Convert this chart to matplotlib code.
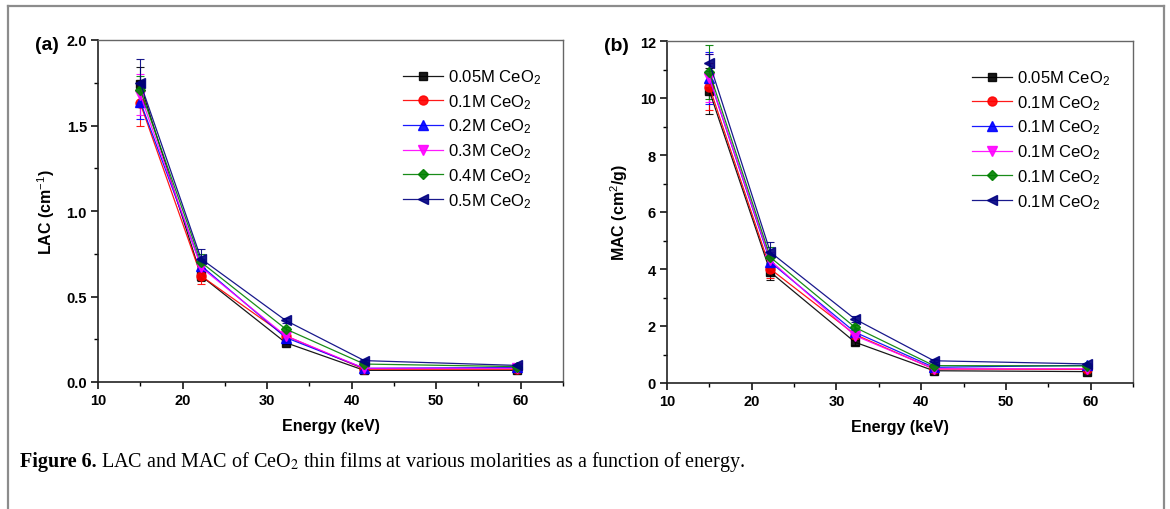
import matplotlib
matplotlib.use("Agg")
import matplotlib.pyplot as plt
from matplotlib.lines import Line2D
from matplotlib.ticker import MultipleLocator

plt.rcParams["font.family"] = ["Liberation Sans", "DejaVu Sans"]
plt.rcParams["mathtext.fontset"] = "custom"
plt.rcParams["mathtext.rm"] = "Liberation Sans"
plt.rcParams["mathtext.it"] = "Liberation Sans:italic"
plt.rcParams["mathtext.bf"] = "Liberation Sans:bold"

# photon energies (keV)
energy = [15.0, 22.2, 32.2, 41.5, 59.6]

# LAC (cm^-1) for each molarity, with error bars
lac_005 = [1.74, 0.62, 0.23, 0.068, 0.068]
lac_01 = [1.63, 0.62, 0.27, 0.075, 0.075]
lac_02 = [1.64, 0.68, 0.26, 0.080, 0.085]
lac_03 = [1.68, 0.67, 0.27, 0.080, 0.080]
lac_04 = [1.71, 0.70, 0.31, 0.105, 0.090]
lac_05 = [1.75, 0.72, 0.36, 0.125, 0.097]

lac_err_005 = [0.10, 0.03, 0.010, 0.005, 0.005]
lac_err_01 = [0.13, 0.045, 0.010, 0.005, 0.005]
lac_err_02 = [0.10, 0.04, 0.010, 0.005, 0.005]
lac_err_03 = [0.12, 0.04, 0.010, 0.005, 0.005]
lac_err_04 = [0.08, 0.05, 0.012, 0.006, 0.005]
lac_err_05 = [0.14, 0.06, 0.015, 0.008, 0.005]

# MAC (cm^2/g)
mac_005 = [10.25, 3.89, 1.43, 0.43, 0.40]
mac_01 = [10.40, 4.00, 1.70, 0.49, 0.48]
mac_02 = [10.70, 4.24, 1.78, 0.55, 0.62]
mac_03 = [10.70, 4.30, 1.66, 0.50, 0.50]
mac_04 = [10.90, 4.41, 1.95, 0.61, 0.60]
mac_05 = [11.24, 4.59, 2.24, 0.78, 0.67]

mac_err_005 = [0.82, 0.29, 0.08, 0.03, 0.03]
mac_err_01 = [0.82, 0.30, 0.08, 0.03, 0.03]
mac_err_02 = [0.90, 0.30, 0.08, 0.03, 0.03]
mac_err_03 = [0.85, 0.30, 0.08, 0.03, 0.03]
mac_err_04 = [0.95, 0.35, 0.09, 0.04, 0.03]
mac_err_05 = [0.30, 0.37, 0.10, 0.05, 0.04]

labels_a = ["0.05M CeO$_2$", "0.1M CeO$_2$", "0.2M CeO$_2$",
            "0.3M CeO$_2$", "0.4M CeO$_2$", "0.5M CeO$_2$"]
labels_b = ["0.05M CeO$_2$", "0.1M CeO$_2$", "0.1M CeO$_2$",
            "0.1M CeO$_2$", "0.1M CeO$_2$", "0.1M CeO$_2$"]

colors = ["#000000", "#ff0000", "#0000ff", "#ff00ff", "#008000", "#000080"]
markers = ["s", "o", "^", "v", "D", "<"]
msizes = [6, 6.5, 7, 7, 5.5, 7]

W, H = 1170, 510
fig = plt.figure(figsize=(W / 100, H / 100), dpi=100)


def make_axes(left_px, top_px, right_px, bottom_px):
    return fig.add_axes([left_px / W, 1 - bottom_px / H,
                         (right_px - left_px) / W, (bottom_px - top_px) / H])


def draw_panel(ax, ys, errs, labels, ylabel, ymax, ymaj, ymin_step, tag):
    handles = []
    for y, e, lab, c, m, ms in zip(ys, errs, labels, colors, markers, msizes):
        ax.errorbar(energy, y, yerr=e, color=c, marker=m, markersize=ms,
                    lw=0.9, elinewidth=0.8, capsize=3, capthick=0.8,
                    alpha=0.9)
        handles.append(Line2D([], [], color=c, marker=m, markersize=ms,
                              lw=0.9, alpha=0.9, label=lab))
    ax.set_xlim(10, 65)
    ax.set_ylim(0, ymax)
    ax.xaxis.set_major_locator(MultipleLocator(10))
    ax.xaxis.set_minor_locator(MultipleLocator(5))
    ax.yaxis.set_major_locator(MultipleLocator(ymaj))
    ax.yaxis.set_minor_locator(MultipleLocator(ymin_step))
    ax.set_xticks([10, 20, 30, 40, 50, 60])
    ax.tick_params(which="major", direction="out", length=5, width=1.1,
                   labelsize=10.5, pad=3)
    ax.tick_params(which="minor", direction="out", length=3, width=1.0)
    for lab in ax.get_xticklabels() + ax.get_yticklabels():
        lab.set_fontweight("bold")
    for side in ["left", "bottom"]:
        ax.spines[side].set_linewidth(1.2)
        ax.spines[side].set_color("#222222")
    for side in ["top", "right"]:
        ax.spines[side].set_linewidth(1.0)
        ax.spines[side].set_color("#666666")
    ax.set_xlabel("Energy (keV)", fontsize=11.5, fontweight="bold", labelpad=8)
    ax.set_ylabel(ylabel, fontsize=11.5, fontweight="bold", labelpad=7)
    ax.text(-0.135, 0.988, tag, transform=ax.transAxes, fontsize=14,
            fontweight="bold", ha="left", va="center")
    ax.legend(handles=handles, loc="upper left", bbox_to_anchor=(0.655, 0.92),
              frameon=False, fontsize=12, handlelength=2.4,
              handletextpad=0.3, labelspacing=0.36, borderpad=0,
              borderaxespad=0)


ax_a = make_axes(98, 41, 563, 383)
ax_b = make_axes(667, 42, 1133, 384)

draw_panel(ax_a,
           [lac_005, lac_01, lac_02, lac_03, lac_04, lac_05],
           [lac_err_005, lac_err_01, lac_err_02, lac_err_03, lac_err_04, lac_err_05],
           labels_a, "LAC (cm$^{-1}$)", 2.0, 0.5, 0.25, "(a)")
draw_panel(ax_b,
           [mac_005, mac_01, mac_02, mac_03, mac_04, mac_05],
           [mac_err_005, mac_err_01, mac_err_02, mac_err_03, mac_err_04, mac_err_05],
           labels_b, "MAC (cm$^2$/g)", 12, 2, 1, "(b)")

# outer frame of the figure box
frame_c = "#8c8c8c"
x0, x1, ytop = 8 / W, 1164 / W, 1 - 7 / H
fig.add_artist(Line2D([x0, x0], [0, ytop], color=frame_c, lw=1.6))
fig.add_artist(Line2D([x1, x1], [0, ytop], color=frame_c, lw=1.6))
fig.add_artist(Line2D([x0, x1], [ytop, ytop], color=frame_c, lw=1.6))

# caption: bold lead-in followed by regular text on the same baseline
cap_y = 1 - 467 / H
cap1 = fig.text(20 / W, cap_y, "Figure 6.", fontsize=14.5,
                family="Liberation Serif", fontweight="bold", va="baseline")
fig.canvas.draw()
bb = cap1.get_window_extent()
fig.text(bb.x1 / W + 4 / W, cap_y,
         "LAC and MAC of CeO$_2$ thin films at various molarities as a function of energy.",
         fontsize=14.5, family="Liberation Serif", math_fontfamily="stix",
         va="baseline")

fig.savefig("out.png", dpi=100)
